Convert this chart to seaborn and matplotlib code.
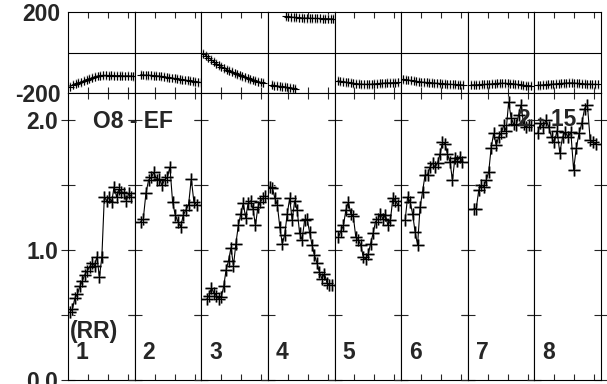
import numpy as np
import matplotlib
matplotlib.use('Agg')
import matplotlib.pyplot as plt
import seaborn as sns

sns.set_style('white')
plt.rcParams['font.family'] = ['Liberation Sans', 'DejaVu Sans']
plt.rcParams['font.weight'] = 'bold'

# ---------------------------------------------------------------
# 하단 패널: (RR) 값, 구간 1~8
# ---------------------------------------------------------------
rr_1 = [0.52, 0.55, 0.63, 0.66, 0.72, 0.76, 0.81, 0.84, 0.87, 0.90, 0.88, 0.95, 0.79,
        0.95, 1.41, 1.38, 1.41, 1.37, 1.49, 1.41, 1.47, 1.45, 1.44, 1.38, 1.44, 1.41]
rr_2 = [1.22, 1.24, 1.44, 1.54, 1.56, 1.60, 1.54, 1.55, 1.50, 1.54, 1.56, 1.64, 1.37,
        1.27, 1.22, 1.18, 1.27, 1.31, 1.35, 1.55, 1.37, 1.35]
rr_3 = [0.62, 0.65, 0.71, 0.67, 0.65, 0.62, 0.64, 0.72, 0.85, 0.92, 1.02, 0.88, 1.05,
        1.19, 1.28, 1.36, 1.25, 1.36, 1.38, 1.32, 1.19, 1.33, 1.37, 1.40, 1.42]
rr_4 = [1.49, 1.48, 1.40, 1.35, 1.18, 1.05, 1.12, 1.28, 1.40, 1.23, 1.38, 1.31, 1.13,
        1.08, 1.23, 1.24, 1.14, 1.04, 0.96, 0.90, 0.83, 0.78, 0.82, 0.75, 0.73, 0.73]
rr_5 = [1.10, 1.15, 1.19, 1.31, 1.37, 1.28, 1.26, 1.10, 1.08, 1.04, 0.95, 0.93, 0.97,
        1.05, 1.13, 1.22, 1.24, 1.28, 1.24, 1.27, 1.19, 1.23, 1.40, 1.38, 1.35]
rr_6 = [1.23, 1.41, 1.37, 1.28, 1.14, 1.04, 1.33, 1.45, 1.58, 1.58, 1.64, 1.67, 1.64,
        1.67, 1.74, 1.83, 1.82, 1.74, 1.68, 1.54, 1.71, 1.69, 1.72, 1.68]
rr_7 = [1.32, 1.32, 1.46, 1.50, 1.49, 1.54, 1.60, 1.79, 1.90, 1.81, 1.87, 1.90, 1.96,
        1.92, 2.14, 2.02, 1.97, 1.96, 2.04, 2.12, 1.97, 1.95, 1.96, 1.96]
rr_8 = [1.90, 1.98, 1.95, 2.00, 1.95, 1.87, 1.83, 1.92, 1.75, 1.87, 1.91, 1.87, 1.91,
        1.62, 1.79, 1.90, 1.98, 2.09, 2.12, 1.85, 1.83, 1.82]
RR = [rr_1, rr_2, rr_3, rr_4, rr_5, rr_6, rr_7, rr_8]
# 각 구간 안에서 첫/마지막 샘플 위치 (구간 폭 = 1)
RR_SPAN = [(0.03, 0.95), (0.09, 0.93), (0.08, 0.96), (0.03, 0.96),
           (0.06, 0.95), (0.06, 0.92), (0.09, 0.95), (0.05, 0.92)]

# ---------------------------------------------------------------
# 상단 패널: 위상 (-200 ~ 200)
# ---------------------------------------------------------------
ph_1 = [-168, -160, -155, -150, -146, -140, -135, -130, -125, -120, -116, -114,
        -113, -113, -114, -113, -114, -115, -114, -115, -116, -115, -116, -117]
ph_2 = [-110, -111, -112, -112, -113, -114, -115, -116, -118, -120, -122, -124,
        -126, -128, -130, -132, -134, -136, -138, -140, -142, -144, -146, -148]
ph_3 = [-5, -15, -25, -35, -45, -55, -62, -70, -77, -84, -90, -96,
        -102, -108, -113, -118, -123, -128, -132, -136, -140, -144, -147, -150]
ph_4a = [-160, -163, -165, -167, -168, -170, -172, -174, -176, -178]
ph_4b = [178, 176, 175, 174, 173, 172, 171, 170, 170, 169, 169, 168,
         168, 168, 167, 167, 167, 166, 166]
ph_5 = [-140, -142, -144, -146, -148, -150, -152, -154, -155, -156, -157, -157,
        -157, -156, -155, -154, -153, -152, -151, -150, -150, -149, -149, -148]
ph_6 = [-132, -134, -136, -138, -140, -142, -144, -146, -147, -148, -149, -150,
        -151, -152, -153, -154, -155, -156, -157, -158, -158, -159, -160, -160]
ph_7 = [-160, -160, -160, -159, -158, -158, -157, -156, -155, -154, -153, -152,
        -152, -152, -153, -154, -155, -156, -158, -160, -162, -163, -164, -164]
ph_8 = [-162, -161, -160, -159, -158, -157, -156, -155, -154, -153, -152, -151,
        -150, -150, -151, -152, -153, -154, -155, -156, -156, -157, -157, -158]
PH = [[ph_1], [ph_2], [ph_3], [ph_4a, ph_4b], [ph_5], [ph_6], [ph_7], [ph_8]]
PH_SPAN = [[(0.03, 0.98)], [(0.09, 0.99)], [(0.03, 0.93)], [(0.06, 0.41), (0.27, 0.98)],
           [(0.05, 0.95)], [(0.03, 0.93)], [(0.05, 0.95)], [(0.05, 0.95)]]
PH_ERR = 22

SEG_LABELS = ['1', '2', '3', '4', '5', '6', '7', '8']
FS = 16.5

fig, axes = plt.subplots(2, 8, figsize=(6.07, 3.84), dpi=100, sharey='row',
                         gridspec_kw=dict(height_ratios=[81, 287], wspace=0, hspace=0))
fig.subplots_adjust(left=68/607, right=601/607, top=1-12/384, bottom=1-380/384)

for j in range(8):
    top, bot = axes[0, j], axes[1, j]

    # --- 상단: 위상 ---
    top.axhline(0, color='black', lw=0.8, zorder=1)
    for vals, (s, e) in zip(PH[j], PH_SPAN[j]):
        x = np.linspace(s, e, len(vals))
        top.errorbar(x, vals, yerr=PH_ERR, fmt='none', ecolor='0.55', elinewidth=1.0, zorder=2)
        sns.lineplot(x=x, y=vals, ax=top, color='black', lw=0.8, marker='+',
                     markersize=6, markeredgecolor='black', markeredgewidth=0.8,
                     sort=False, zorder=3)
    top.set_xlim(0, 1)
    top.set_ylim(-200, 200)
    top.set_yticks([-200, 200])
    top.tick_params(axis='y', length=0, pad=5.5)

    # --- 하단: RR ---
    x = np.linspace(RR_SPAN[j][0], RR_SPAN[j][1], len(RR[j]))
    sns.lineplot(x=x, y=RR[j], ax=bot, color='0.6', lw=0, marker='+', markersize=9,
                 markeredgecolor='0.6', markeredgewidth=2.0, sort=False, zorder=2)
    sns.lineplot(x=x, y=RR[j], ax=bot, color='black', lw=0.8, marker='+', markersize=9,
                 markeredgecolor='black', markeredgewidth=0.8, sort=False, zorder=3)
    bot.set_xlim(0, 1)
    bot.set_ylim(0, 2.21)
    bot.set_yticks([0, 0.5, 1.0, 1.5, 2.0])
    bot.tick_params(axis='y', direction='inout', left=True, right=True,
                    length=10, width=0.8, pad=2)
    bot.text(0.12, 0.162, SEG_LABELS[j], fontsize=FS, fontweight='bold',
             ha='left', va='baseline')

    for ax in (top, bot):
        ax.set_xticks([0.3, 0.6, 0.9])
        ax.tick_params(axis='x', direction='in', top=True, bottom=True,
                       length=4, width=0.8, labelbottom=False)
        ax.set_xlabel('')
        ax.set_ylabel('')
        for sp in ax.spines.values():
            sp.set_color('black')
            sp.set_linewidth(0.8)

axes[0, 0].set_yticklabels(['-200', '200'], fontsize=FS, fontweight='bold')
axes[1, 0].set_yticklabels(['0.0', '', '1.0', '', '2.0'], fontsize=FS, fontweight='bold')

fig.text(0.976, 1.94, 'O8 - EF', transform=axes[1, 0].transData, fontsize=FS,
         fontweight='bold', ha='center', va='baseline')
fig.text(0.03, 0.323, '(RR)', transform=axes[1, 0].transData, fontsize=FS,
         fontweight='bold', ha='left', va='baseline')
fig.text(0.75, 1.954, '2 - 15', transform=axes[1, 6].transData, fontsize=FS,
         fontweight='bold', ha='left', va='baseline')

plt.savefig('out.png', dpi=100)
